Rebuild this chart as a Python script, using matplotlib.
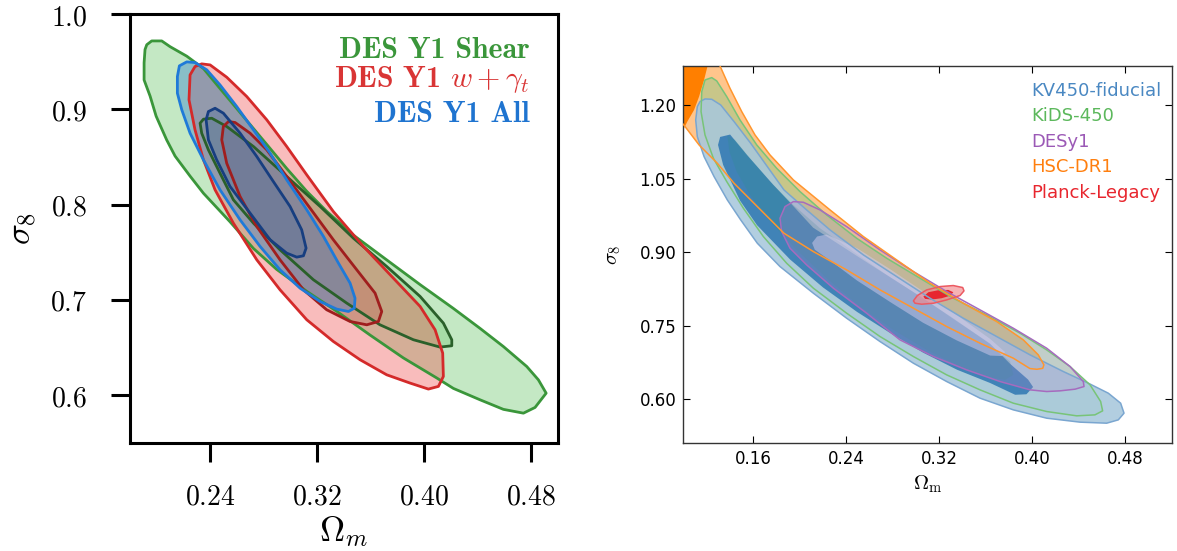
import matplotlib
matplotlib.use("Agg")
import matplotlib.pyplot as plt
from matplotlib.patches import Polygon

plt.rcParams["mathtext.fontset"] = "cm"
plt.rcParams["font.family"] = ["DejaVu Sans"]

# ---------------- DES Y1 panel: (Omega_m, sigma_8) contour vertices ----------------
shear_95 = [(0.1925, 0.968), (0.1962, 0.972), (0.2037, 0.972), (0.2099, 0.966), (0.2224, 0.956),
            (0.2349, 0.943), (0.2473, 0.922), (0.2598, 0.901), (0.2723, 0.880), (0.2848, 0.859),
            (0.2972, 0.838), (0.3122, 0.814), (0.3271, 0.793), (0.3471, 0.768), (0.3720, 0.742),
            (0.3970, 0.716), (0.4219, 0.691), (0.4419, 0.670), (0.4593, 0.651), (0.4768, 0.630),
            (0.4855, 0.616), (0.4913, 0.602), (0.4830, 0.587), (0.4743, 0.581), (0.4593, 0.585),
            (0.4419, 0.595), (0.4219, 0.607), (0.4094, 0.618), (0.3845, 0.639), (0.3596, 0.663),
            (0.3346, 0.688), (0.3122, 0.709), (0.2897, 0.732), (0.2723, 0.754), (0.2548, 0.782),
            (0.2349, 0.812), (0.2249, 0.830), (0.2137, 0.851), (0.2074, 0.868), (0.1995, 0.893),
            (0.1950, 0.914), (0.1905, 0.931), (0.1905, 0.949), (0.1912, 0.963)]
shear_68 = [(0.2324, 0.8856), (0.2349, 0.8898), (0.2411, 0.8908), (0.2523, 0.8821), (0.2723, 0.8611),
            (0.2972, 0.8296), (0.3222, 0.7981), (0.3471, 0.7648), (0.3720, 0.7351), (0.3970, 0.7036),
            (0.4144, 0.6756), (0.4207, 0.6581), (0.4207, 0.6518), (0.4119, 0.6504), (0.3920, 0.6581),
            (0.3670, 0.6738), (0.3421, 0.6966), (0.3172, 0.7211), (0.2922, 0.7526), (0.2723, 0.7806),
            (0.2573, 0.8051), (0.2473, 0.8331), (0.2386, 0.8576), (0.2336, 0.8751)]
wgt_95 = [(0.2249, 0.9363), (0.2286, 0.9451), (0.2336, 0.9479), (0.2399, 0.9468), (0.2523, 0.9339),
          (0.2673, 0.9136), (0.2823, 0.8891), (0.2972, 0.8611), (0.3122, 0.8313), (0.3321, 0.7928),
          (0.3546, 0.7561), (0.3770, 0.7228), (0.3970, 0.6931), (0.4082, 0.6686), (0.4139, 0.6441),
          (0.4144, 0.6196), (0.4107, 0.6091), (0.4032, 0.6063), (0.3895, 0.6126), (0.3720, 0.6213),
          (0.3521, 0.6371), (0.3321, 0.6563), (0.3122, 0.6791), (0.2922, 0.7106), (0.2748, 0.7421),
          (0.2573, 0.7806), (0.2436, 0.8156), (0.2349, 0.8471), (0.2286, 0.8786), (0.2241, 0.9101)]
wgt_68 = [(0.2498, 0.8821), (0.2536, 0.8873), (0.2586, 0.8863), (0.2698, 0.8751), (0.2823, 0.8576),
          (0.2972, 0.8296), (0.3147, 0.7963), (0.3321, 0.7631), (0.3496, 0.7316), (0.3633, 0.7071),
          (0.3683, 0.6878), (0.3658, 0.6773), (0.3571, 0.6738), (0.3446, 0.6773), (0.3271, 0.6896),
          (0.3097, 0.7106), (0.2922, 0.7421), (0.2748, 0.7771), (0.2623, 0.8086), (0.2523, 0.8436),
          (0.2486, 0.8681)]
all_95 = [(0.2154, 0.9346), (0.2169, 0.9458), (0.2224, 0.9500), (0.2286, 0.9493), (0.2374, 0.9416),
          (0.2473, 0.9258), (0.2598, 0.9031), (0.2723, 0.8786), (0.2848, 0.8541), (0.2972, 0.8261),
          (0.3122, 0.7946), (0.3247, 0.7666), (0.3359, 0.7386), (0.3446, 0.7176), (0.3483, 0.7018),
          (0.3478, 0.6913), (0.3434, 0.6878), (0.3346, 0.6903), (0.3222, 0.6983), (0.3072, 0.7123),
          (0.2922, 0.7316), (0.2773, 0.7561), (0.2623, 0.7841), (0.2473, 0.8156), (0.2349, 0.8471),
          (0.2249, 0.8751), (0.2187, 0.8996), (0.2154, 0.9171)]
all_68 = [(0.2369, 0.8891), (0.2386, 0.8978), (0.2436, 0.9013), (0.2498, 0.8961), (0.2623, 0.8751),
          (0.2748, 0.8506), (0.2872, 0.8243), (0.2997, 0.7981), (0.3084, 0.7736), (0.3117, 0.7543),
          (0.3097, 0.7463), (0.3047, 0.7449), (0.2972, 0.7491), (0.2848, 0.7631), (0.2698, 0.7911),
          (0.2548, 0.8191), (0.2448, 0.8471), (0.2386, 0.8681)]

left_xticks = [0.24, 0.32, 0.40, 0.48]
left_yticks = [0.6, 0.7, 0.8, 0.9, 1.0]
left_labels = ["DES Y1 Shear", r"DES Y1 $w+\gamma_t$", "DES Y1 All"]

# ---------------- KiDS / KV450 comparison panel ----------------
hsc_95 = [(0.1250, 1.33), (0.1315, 1.28), (0.1401, 1.2344), (0.1502, 1.1868), (0.1616, 1.1392),
          (0.1745, 1.0984), (0.1946, 1.0474), (0.2261, 0.9862), (0.2548, 0.9318), (0.2834, 0.8842),
          (0.3121, 0.8366), (0.3407, 0.7958), (0.3694, 0.7584), (0.3923, 0.7210), (0.4052, 0.6904),
          (0.4100, 0.6700), (0.4090, 0.6630), (0.4040, 0.6610), (0.3980, 0.6625), (0.3837, 0.6836),
          (0.3551, 0.7142), (0.3264, 0.7482), (0.2978, 0.7856), (0.2691, 0.8230), (0.2404, 0.8638),
          (0.2118, 0.9012), (0.1865, 0.9386), (0.1722, 0.9726), (0.1579, 1.0066), (0.1436, 1.0406),
          (0.1292, 1.0814), (0.1135, 1.1188), (0.1006, 1.1590), (0.0850, 1.2000), (0.0800, 1.33)]
hsc_68 = [(0.0800, 1.33), (0.1235, 1.33), (0.1206, 1.278), (0.1178, 1.2514), (0.1135, 1.2174),
          (0.1092, 1.1902), (0.1034, 1.1664), (0.1000, 1.150), (0.0900, 1.140)]
kids_95 = [(0.1186, 1.2514), (0.1244, 1.2562), (0.1287, 1.2494), (0.1373, 1.2174), (0.1487, 1.1698),
           (0.1631, 1.1188), (0.1802, 1.0712), (0.2003, 1.0236), (0.2232, 0.9760), (0.2490, 0.9284),
           (0.2748, 0.8876), (0.3035, 0.8468), (0.3321, 0.8060), (0.3608, 0.7720), (0.3895, 0.7346),
           (0.4124, 0.7006), (0.4325, 0.6666), (0.4497, 0.6292), (0.4588, 0.5952), (0.4605, 0.5762),
           (0.4539, 0.5680), (0.4382, 0.5660), (0.4124, 0.5748), (0.3837, 0.5918), (0.3551, 0.6190),
           (0.3264, 0.6496), (0.2978, 0.6870), (0.2691, 0.7278), (0.2404, 0.7754), (0.2118, 0.8264),
           (0.1888, 0.8774), (0.1688, 0.9318), (0.1516, 0.9896), (0.1373, 1.0440), (0.1258, 1.0916),
           (0.1186, 1.1392), (0.1152, 1.1868), (0.1158, 1.2276)]
kids_68 = [(0.1378, 1.1379), (0.1444, 1.1290), (0.1573, 1.0916), (0.1745, 1.0440), (0.1946, 0.9964),
           (0.2175, 0.9488), (0.2462, 0.9012), (0.2748, 0.8536), (0.3035, 0.8094), (0.3321, 0.7652),
           (0.3608, 0.7176), (0.3809, 0.6768), (0.3837, 0.6496), (0.3766, 0.6394), (0.3608, 0.6462),
           (0.3379, 0.6666), (0.3092, 0.7006), (0.2806, 0.7414), (0.2519, 0.7890), (0.2232, 0.8468),
           (0.1974, 0.9046), (0.1745, 0.9624), (0.1573, 1.0168), (0.1458, 1.0644), (0.1396, 1.1052)]
kv450_95 = [(0.1143, 1.2072), (0.1186, 1.2127), (0.1244, 1.2120), (0.1321, 1.2004), (0.1436, 1.1664),
            (0.1579, 1.1222), (0.1722, 1.0746), (0.1865, 1.0270), (0.2060, 0.9862), (0.2261, 0.9454),
            (0.2548, 0.8944), (0.2834, 0.8502), (0.3121, 0.8060), (0.3407, 0.7652), (0.3694, 0.7278),
            (0.3981, 0.6904), (0.4267, 0.6564), (0.4482, 0.6326), (0.4654, 0.6122), (0.4760, 0.5918),
            (0.4789, 0.5714), (0.4740, 0.5578), (0.4640, 0.5510), (0.4411, 0.5531), (0.4124, 0.5612),
            (0.3837, 0.5782), (0.3551, 0.6020), (0.3264, 0.6360), (0.2978, 0.6734), (0.2691, 0.7176),
            (0.2404, 0.7652), (0.2118, 0.8162), (0.1831, 0.8706), (0.1636, 0.9182), (0.1493, 0.9658),
            (0.1378, 1.0066), (0.1264, 1.0542), (0.1178, 1.0950), (0.1120, 1.1358), (0.1106, 1.1698),
            (0.1120, 1.1970)]
kv450_68 = [(0.1316, 1.1351), (0.1402, 1.1400), (0.1548, 1.0980), (0.1771, 1.0380), (0.1918, 1.0010),
            (0.2116, 0.9500), (0.2494, 0.8920), (0.3061, 0.8060), (0.3638, 0.7130), (0.3810, 0.6720),
            (0.3964, 0.6400), (0.4007, 0.6248), (0.3950, 0.6100), (0.3853, 0.6090), (0.3638, 0.6330),
            (0.3354, 0.6600), (0.3061, 0.6950), (0.2778, 0.7350), (0.2494, 0.7780), (0.2201, 0.8280),
            (0.1918, 0.8850), (0.1634, 0.9550), (0.1488, 1.0050), (0.1342, 1.0780), (0.1298, 1.1188)]
desy1_95 = [(0.1831, 0.9692), (0.1874, 0.9930), (0.1946, 1.0032), (0.2032, 1.0018), (0.2175, 0.9862),
            (0.2404, 0.9522), (0.2691, 0.9046), (0.2978, 0.8604), (0.3264, 0.8196), (0.3551, 0.7822),
            (0.3837, 0.7448), (0.4124, 0.7040), (0.4325, 0.6666), (0.4439, 0.6360), (0.4445, 0.6258),
            (0.4368, 0.6204), (0.4239, 0.6170), (0.4124, 0.6156), (0.3981, 0.6190), (0.3723, 0.6360),
            (0.3436, 0.6598), (0.3150, 0.6870), (0.2863, 0.7210), (0.2576, 0.7754), (0.2290, 0.8264),
            (0.2060, 0.8740), (0.1917, 0.9080), (0.1845, 0.9420)]
desy1_68 = [(0.2107, 0.9188), (0.2150, 0.9320), (0.2230, 0.9360), (0.2494, 0.9080), (0.2780, 0.8650),
            (0.3061, 0.8200), (0.3350, 0.7720), (0.3638, 0.7230), (0.3767, 0.6960), (0.3740, 0.6880),
            (0.3638, 0.6890), (0.3350, 0.7200), (0.3061, 0.7560), (0.2780, 0.7980), (0.2494, 0.8420),
            (0.2250, 0.8850), (0.2130, 0.9050)]
planck_95 = [(0.2978, 0.8006), (0.3012, 0.8115), (0.3092, 0.8230), (0.3207, 0.8298), (0.3321, 0.8319),
             (0.3402, 0.8278), (0.3413, 0.8210), (0.3379, 0.8115), (0.3264, 0.8026), (0.3150, 0.7958),
             (0.3049, 0.7938), (0.2992, 0.7958)]
planck_68 = [(0.3064, 0.8094), (0.3107, 0.8183), (0.3193, 0.8224), (0.3278, 0.8230), (0.3321, 0.8183),
             (0.3299, 0.8115), (0.3221, 0.8060), (0.3135, 0.8033), (0.3078, 0.8047)]

right_xticks = [0.16, 0.24, 0.32, 0.40, 0.48]
right_yticks = [0.60, 0.75, 0.90, 1.05, 1.20]
right_names = ["KV450-fiducial", "KiDS-450", "DESy1", "HSC-DR1", "Planck-Legacy"]
right_colors = ["#4a88c2", "#5cb85c", "#9b59b6", "#ff7f0e", "#e8262e"]


def fill(ax, pts, color, alpha, z):
    ax.add_patch(Polygon(pts, closed=True, facecolor=color, edgecolor="none",
                         alpha=alpha, zorder=z))


def outline(ax, pts, color, lw, z):
    ax.add_patch(Polygon(pts, closed=True, fill=False, edgecolor=color, lw=lw,
                         joinstyle="round", zorder=z))


fig = plt.figure(figsize=(11.77, 5.51), dpi=100)

# ---------------- left panel ----------------
ax1 = fig.add_axes([0.1105, 0.1966, 0.3634, 0.7775])
ax1.set_xlim(0.18, 0.50)
ax1.set_ylim(0.55, 1.0)

fill(ax1, shear_95, "#3cb43c", 0.30, 1)
fill(ax1, shear_68, "#3cb43c", 0.22, 1)
fill(ax1, wgt_95, "#f05050", 0.38, 2)
fill(ax1, wgt_68, "#c85050", 0.25, 2)
fill(ax1, all_95, "#2a7ad0", 0.38, 3)
fill(ax1, all_68, "#4a6a9a", 0.35, 3)
outline(ax1, shear_95, "#3a963a", 2.0, 5)
outline(ax1, shear_68, "#2a602a", 2.0, 5)
outline(ax1, wgt_95, "#d42a2a", 2.0, 6)
outline(ax1, wgt_68, "#a01e1e", 2.0, 6)
outline(ax1, all_95, "#1f7ad8", 2.0, 7)
outline(ax1, all_68, "#173e80", 2.0, 7)

ax1.set_xticks(left_xticks)
ax1.set_xticklabels([r"$%.2f$" % v for v in left_xticks])
ax1.set_yticks(left_yticks)
ax1.set_yticklabels([r"$%.1f$" % v for v in left_yticks])
ax1.tick_params(direction="out", length=14, width=2.2, labelsize=20,
                top=False, right=False)
ax1.tick_params(axis="x", pad=15)
ax1.tick_params(axis="y", pad=17)
for s in ax1.spines.values():
    s.set_linewidth(2.2)
ax1.set_xlabel(r"$\Omega_m$", fontsize=25, labelpad=2)
ax1.set_ylabel(r"$\sigma_8$", fontsize=25, labelpad=8)

for txt, col, yb in zip(left_labels, ["#3a963a", "#d93535", "#1f74d0"], [0.899, 0.830, 0.7486]):
    ax1.text(0.935, yb, txt, transform=ax1.transAxes, ha="right", va="baseline",
             fontsize=21.5, color=col, family="cmb10", zorder=10)

# ---------------- right panel ----------------
ax2 = fig.add_axes([0.5806, 0.1955, 0.4150, 0.6848])
ax2.set_xlim(0.10, 0.52)
ax2.set_ylim(0.51, 1.28)

fill(ax2, hsc_95, "#ff8c1a", 0.50, 1)
fill(ax2, hsc_68, "#ff7f00", 1.00, 1)
fill(ax2, kids_95, "#86c986", 0.45, 2)
fill(ax2, kv450_95, "#a8c8dc", 0.88, 3)
fill(ax2, kv450_68, "#3a7fb6", 0.95, 3)
fill(ax2, kids_68, "#2f8f8a", 0.25, 3.5)
fill(ax2, desy1_95, "#b088cc", 0.25, 4)
fill(ax2, desy1_68, "#d4cdee", 0.50, 4)
fill(ax2, planck_95, "#f28a8e", 0.65, 5)
fill(ax2, planck_68, "#e8202a", 0.95, 5)
outline(ax2, kv450_95, "#7aa6d0", 1.1, 6)
outline(ax2, kids_95, "#78c478", 1.1, 6)
outline(ax2, desy1_95, "#a66bbe", 1.1, 6)
outline(ax2, hsc_95, "#ff962e", 1.1, 6)
outline(ax2, planck_95, "#ec5a62", 1.1, 6)

ax2.set_xticks(right_xticks)
ax2.set_xticklabels(["%.2f" % v for v in right_xticks])
ax2.set_yticks(right_yticks)
ax2.set_yticklabels(["%.2f" % v for v in right_yticks])
ax2.tick_params(direction="in", length=5, width=0.8, labelsize=12, pad=5,
                top=True, right=True)
for s in ax2.spines.values():
    s.set_linewidth(1.0)
    s.set_color("#333333")
ax2.set_xlabel(r"$\Omega_{\rm m}$", fontsize=15, labelpad=4)
ax2.set_ylabel(r"$\sigma_8$", fontsize=15, labelpad=12)

for i, (name, col) in enumerate(zip(right_names, right_colors)):
    ax2.text(0.713, 0.9205 - i * 0.0675, name, transform=ax2.transAxes, ha="left",
             va="baseline", fontsize=13, color=col, zorder=10)

fig.savefig("out.png", dpi=100)
